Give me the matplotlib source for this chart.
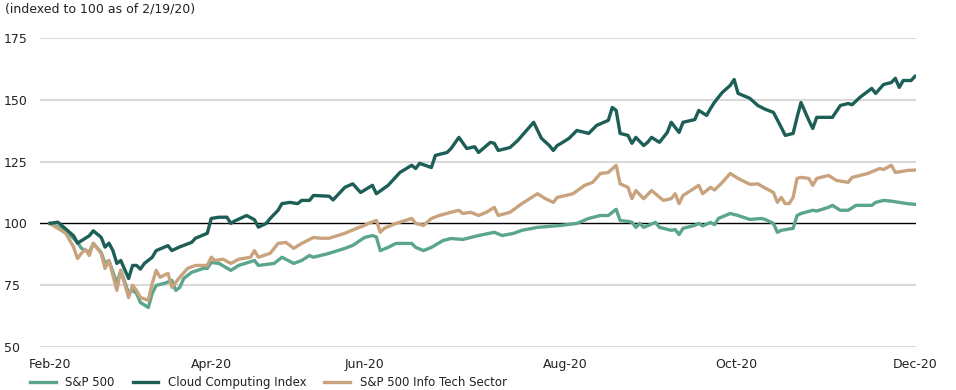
import matplotlib
matplotlib.use("Agg")
import matplotlib.pyplot as plt

# ---------------- data (x = trading days since 2/19/20, y = index level) ----------------
labels = ["S&P 500", "Cloud Computing Index", "S&P 500 Info Tech Sector"]

cloud_days = [0, 2, 6, 7, 10, 11, 13, 14, 15, 16, 17, 18, 20, 21, 22, 23, 24, 26, 27, 30, 31, 33,
              36, 37, 40, 41, 43, 45, 46, 47, 50, 52, 53, 55, 56, 58, 59, 61, 63, 64, 66, 67, 71,
              72, 75, 77, 79, 82, 83, 86, 89, 92, 93, 94, 97, 98, 101, 102, 104, 106, 108, 109,
              112, 113, 114, 117, 119, 123, 125, 127, 128, 129, 130, 132, 134, 137, 139, 142,
              143, 144, 145, 147, 148, 149, 151, 152, 153, 155, 157, 158, 160, 161, 164, 165,
              167, 168, 169, 171, 173, 174, 175, 178, 180, 182, 184, 186, 187, 189, 190, 191,
              193, 194, 195, 199, 201, 203, 204, 206, 209, 210, 212, 214, 215, 216, 217, 219, 220]
cloud_vals = [100, 100.5, 95, 92, 95, 97, 94.4, 90.4, 92, 89, 83.8, 85, 77.7, 83, 83, 81.5, 83.8,
              86.3, 89, 91, 89, 90.5, 92.3, 94, 96, 102, 102.5, 102.5, 100, 101, 103.2, 101.5,
              98.5, 100, 102, 105.3, 108, 108.5, 108, 109.3, 109.3, 111.3, 111, 109.5, 114.6,
              116, 112.5, 115.4, 112, 115.4, 120.6, 123.5, 122.2, 124.3, 122.6, 127.5, 128.7,
              130.3, 134.8, 130.3, 131, 128.7, 132.8, 132.4, 129.5, 130.7, 133.6, 140.9, 134.4,
              131.5, 129.5, 131.5, 132.4, 134.4, 137.6, 136.4, 139.6, 141.7, 146.9, 145.7, 136.4,
              135.6, 132.4, 134.8, 131.5, 132.8, 134.8, 132.8, 136.8, 140.9, 136.8, 140.9, 142,
              145.7, 143.7, 146.5, 149, 153, 155.8, 158.2, 152.6, 150.6, 147.7, 146.1, 144.9,
              138.8, 135.6, 136.4, 142.9, 148.9, 141.7, 138.4, 142.9, 142.9, 147.7, 148.5, 148,
              151, 154.6, 152.6, 156.2, 157, 158.7, 155, 157.8, 157.8, 159.5]

tech_days = [0, 4, 6, 7, 8, 9, 10, 11, 13, 14, 15, 17, 18, 20, 21, 22, 23, 25, 26, 27, 28, 30, 31,
             33, 35, 37, 40, 41, 42, 44, 46, 48, 51, 52, 53, 56, 58, 60, 62, 64, 67, 69, 71, 75,
             78, 80, 81, 83, 84, 85, 88, 92, 93, 95, 97, 99, 102, 104, 105, 107, 109, 111, 113,
             114, 117, 120, 122, 124, 126, 128, 129, 133, 136, 138, 140, 142, 144, 145, 147, 148,
             149, 151, 153, 156, 158, 159, 160, 161, 163, 165, 166, 168, 169, 171, 173, 175,
             178, 180, 182, 184, 185, 186, 187, 188, 189, 190, 191, 193, 194, 195, 198, 200,
             203, 204, 208, 211, 212, 214, 215, 218, 220]
tech_vals = [100, 96, 90.4, 85.8, 87.9, 89.5, 87, 92, 87.9, 81.8, 85, 72.9, 81, 70, 75, 72.9, 70,
             68.9, 75.7, 81, 78.2, 79.8, 74.1, 78.2, 81.8, 83, 83, 86.3, 85, 85.5, 83.8, 85.5,
             86.3, 89, 86.3, 87.9, 91.9, 92.3, 89.9, 91.9, 94.3, 94, 94, 96, 98, 99.2, 100,
             101.2, 96.4, 98, 100, 102, 100, 99.2, 102, 103.2, 104.5, 105.3, 104, 104.5, 103.2,
             104.5, 106.5, 103.2, 104.5, 108, 110, 112, 110, 108.5, 110.5, 112, 115.4, 116.6,
             120.2, 120.6, 123.5, 116, 114.6, 110, 113.3, 110, 113.3, 109.3, 110, 112, 108,
             111.3, 113.3, 115.4, 112, 114.6, 113.5, 116.6, 120.2, 118.2, 115.8, 116, 114.2,
             112.5, 108.5, 110.5, 108, 108, 110.5, 118.2, 118.6, 118.2, 115.4, 118.2, 119.4,
             117.4, 116.6, 118.6, 120.2, 122.2, 121.8, 123.5, 120.6, 121.4, 121.6]

sp500_days = [0, 4, 7, 8, 10, 11, 13, 14, 15, 17, 18, 20, 21, 22, 23, 25, 26, 27, 29, 31, 32, 33,
              34, 36, 39, 40, 41, 43, 46, 48, 52, 53, 57, 59, 62, 64, 66, 67, 71, 75, 77, 80, 82,
              83, 84, 86, 88, 92, 93, 95, 97, 100, 102, 105, 107, 109, 113, 115, 118, 120, 124,
              127, 130, 134, 137, 140, 142, 144, 145, 147, 148, 149, 150, 151, 154, 155, 158,
              159, 160, 161, 164, 165, 166, 168, 169, 170, 173, 175, 178, 181, 182, 184, 185,
              186, 189, 190, 191, 194, 195, 198, 199, 201, 203, 205, 209, 210, 212, 214, 216,
              218, 220]
sp500_vals = [100, 97, 92.3, 89.9, 88.3, 91.9, 88.3, 83.8, 85, 75.7, 81, 71.7, 72.9, 71.7, 68,
              66, 71.7, 74.9, 75.7, 76.9, 72.9, 74.1, 77.7, 80.2, 81.8, 81.8, 84.2, 83.8, 81, 83,
              85, 83, 83.8, 86.3, 83.8, 85, 87, 86.3, 87.9, 89.9, 91.1, 94.3, 95.1, 94.5, 89,
              90.3, 91.9, 91.9, 90.3, 89, 90.3, 93.1, 93.9, 93.5, 94.3, 95.1, 96.4, 95.1, 96,
              97.2, 98.4, 98.8, 99.2, 100, 102, 103.2, 103.2, 105.7, 101.2, 100.8, 100.5, 98.4,
              100, 98.4, 100.4, 98.4, 97.2, 97.5, 95.5, 98, 99.2, 100, 99, 100.4, 99.5, 102, 104,
              103.2, 101.6, 102, 101.5, 100, 96.4, 97.2, 98, 103.2, 104, 105.3, 105, 106.5,
              107.3, 105.3, 105.3, 107.3, 107.3, 108.5, 109.3, 109, 108.5, 108, 107.7]

xtick_days = [0, 41, 80, 131, 174.5, 220]
xtick_labels = ["Feb-20", "Apr-20", "Jun-20", "Aug-20", "Oct-20", "Dec-20"]
ytick_vals = [50, 75, 100, 125, 150, 175]

# ---------------- styling ----------------
c_cloud = "#1d5f57"
c_tech = "#c9a37e"
c_sp = "#5ba58c"
grid_c = "#d9d9d9"

W, H = 956, 390
fig = plt.figure(figsize=(W / 100, H / 100), dpi=100)
ax_l, ax_r, ax_t, ax_b = 40, 916, 38, 347
ax = fig.add_axes([ax_l / W, 1 - ax_b / H, (ax_r - ax_l) / W, (ax_b - ax_t) / H])

for v in ytick_vals:
    if v == 100:
        continue
    ax.axhline(v, color=grid_c, lw=1.5, zorder=1)
ax.axhline(100, color="black", lw=1.0, zorder=2)

lw = 2.4
l1, = ax.plot(sp500_days, sp500_vals, color=c_sp, lw=lw, zorder=3, solid_joinstyle="round")
l3, = ax.plot(tech_days, tech_vals, color=c_tech, lw=lw, zorder=3, solid_joinstyle="round")
l2, = ax.plot(cloud_days, cloud_vals, color=c_cloud, lw=lw, zorder=4, solid_joinstyle="round")

# x scale: day 0 at px 50, day 220 at px 915
px_per_day = (915 - 50) / 220
ax.set_xlim(-(50 - ax_l) / px_per_day, 220 + (ax_r - 915) / px_per_day)
ax.set_ylim(50, 175)

for s in ax.spines.values():
    s.set_visible(False)

ax.set_yticks(ytick_vals)
ax.set_yticklabels([str(v) for v in ytick_vals])
ax.set_xticks(xtick_days)
ax.set_xticklabels(xtick_labels)
ax.tick_params(axis="y", length=0, pad=(ax_l - 4) * 0.72, labelsize=9, colors="#222222")
for t in ax.get_yticklabels():
    t.set_horizontalalignment("left")
ax.tick_params(axis="x", length=0, pad=8, labelsize=9, colors="#222222")

fig.text(5 / W, 1 - 9 / H, "(indexed to 100 as of 2/19/20)", fontsize=9,
         ha="left", va="center", color="#222222")

fig.legend([l1, l2, l3], labels, loc="upper left", ncol=3, frameon=False,
           bbox_to_anchor=(30 / W, 1 - 376 / H), fontsize=8.5, handlelength=2.2,
           columnspacing=1.5, borderpad=0, borderaxespad=0, labelcolor="#222222")

fig.savefig("out.png", dpi=100)
